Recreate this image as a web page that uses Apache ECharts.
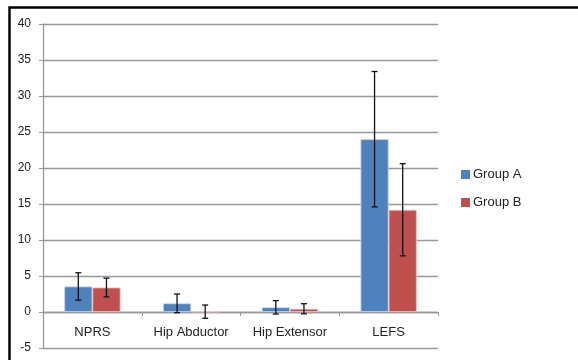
<!DOCTYPE html>
<html><head><meta charset="utf-8">
<script src="https://cdn.jsdelivr.net/npm/echarts@6/dist/echarts.min.js"></script>
<style>html,body{margin:0;padding:0;background:#fff}#c{width:578px;height:360px}</style>
</head><body><div id="c"></div>
<script>
const categories = ['NPRS', 'Hip Abductor', 'Hip Extensor', 'LEFS'];
const seriesNames = ['Group A', 'Group B'];
const groupA = [3.55, 1.2, 0.65, 24.0];
const groupAErr = [1.9, 1.3, 0.93, 9.4];
const groupB = [3.4, 0.05, 0.45, 14.2];
const groupBErr = [1.3, 0.92, 0.7, 6.4];
const yTicks = { min: -5, max: 40, interval: 5 };

const colors = ['#4F81BD', '#C0504D'];
const catGap = 0.43;
const gridH = 324;
const zeroOffset = -((0 - yTicks.min) / (yTicks.max - yTicks.min)) * gridH;

function errData(vals, errs) {
  return vals.map((v, i) => [i, v - errs[i], v + errs[i]]);
}
function errSeries(vals, errs, idx) {
  return {
    type: 'custom',
    name: seriesNames[idx] + ' err',
    data: errData(vals, errs),
    z: 10,
    silent: true,
    renderItem: function (params, api) {
      const band = api.size([1, 0])[0];
      const bw = band * (1 - catGap) / 2;
      const off = idx === 0 ? -bw / 2 : bw / 2;
      const lo = api.coord([api.value(0), api.value(1)]);
      const hi = api.coord([api.value(0), api.value(2)]);
      const x = lo[0] + off;
      const cap = 3;
      const style = { stroke: '#111', lineWidth: 1.3 };
      return {
        type: 'group',
        children: [
          { type: 'line', shape: { x1: x, y1: hi[1], x2: x, y2: lo[1] }, style },
          { type: 'line', shape: { x1: x - cap, y1: hi[1], x2: x + cap, y2: hi[1] }, style },
          { type: 'line', shape: { x1: x - cap, y1: lo[1], x2: x + cap, y2: lo[1] }, style }
        ]
      };
    }
  };
}

const chart = echarts.init(document.getElementById('c'), null, { renderer: 'canvas' });
const font = '"Liberation Sans", Arial, sans-serif';
chart.setOption({
  animation: false,
  textStyle: { fontFamily: font },
  graphic: [{
    type: 'rect', left: 7, top: 5, z: 100, silent: true,
    shape: { width: 620, height: 420 },
    style: { fill: 'none', stroke: '#000', lineWidth: 2.5 }
  }],
  grid: { left: 43, top: 24, width: 395, height: gridH, containLabel: false, outerBoundsMode: 'none' },
  legend: {
    orient: 'vertical', left: 456, top: 163, itemGap: 15,
    itemWidth: 9, itemHeight: 9, icon: 'rect',
    data: seriesNames,
    itemStyle: { borderWidth: 0 },
    textStyle: { color: '#222', fontSize: 13, fontFamily: font, padding: [0, 0, 0, -2] }
  },
  xAxis: {
    type: 'category', data: categories,
    offset: zeroOffset,
    axisLine: { onZero: false, lineStyle: { color: '#999', width: 1.3 } },
    axisTick: { show: true, length: 4, lineStyle: { color: '#999' } },
    axisLabel: { color: '#222', fontSize: 13, margin: 14, fontFamily: font },
    splitLine: { show: false }
  },
  yAxis: {
    type: 'value', min: yTicks.min, max: yTicks.max, interval: yTicks.interval,
    axisLine: { show: true, lineStyle: { color: '#999', width: 1.3 } },
    axisTick: { show: true, length: 4, lineStyle: { color: '#999' } },
    axisLabel: { color: '#222', fontSize: 12, margin: 12, fontFamily: font },
    splitLine: { show: true, lineStyle: { color: '#999', width: 1.3 } }
  },
  series: [
    { type: 'bar', name: seriesNames[0], data: groupA, barGap: '0%', barCategoryGap: (catGap * 100) + '%',
      itemStyle: { color: colors[0], borderColor: '#c9d7ea', borderWidth: 0.8 } },
    { type: 'bar', name: seriesNames[1], data: groupB,
      itemStyle: { color: colors[1], borderColor: '#ecc6c5', borderWidth: 0.8 } },
    errSeries(groupA, groupAErr, 0),
    errSeries(groupB, groupBErr, 1)
  ]
});
</script></body></html>
